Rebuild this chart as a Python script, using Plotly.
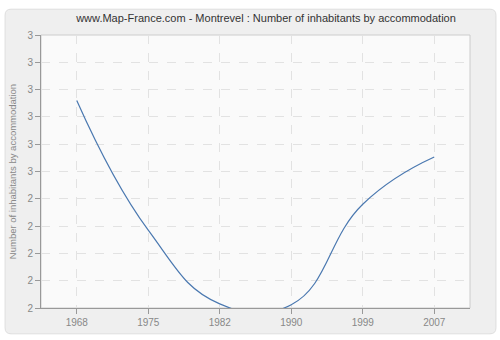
import plotly.graph_objects as go

years = ["1968", "1975", "1982", "1990", "1999", "2007"]
values = [2.76, 2.285, 2.015, 2.012, 2.38, 2.553]

title_text = "www.Map-France.com - Montrevel : Number of inhabitants by accommodation"
y_title = "Number of inhabitants by accommodation"

fig = go.Figure()
fig.add_trace(go.Scatter(
    x=years, y=values, mode="lines",
    line=dict(color="#4a78b0", width=1.2, shape="spline", smoothing=1.3),
    hoverinfo="x+y",
))

def rounded(x0, y0, x1, y1, rx, ry):
    return (f"M{x0+rx},{y0} L{x1-rx},{y0} Q{x1},{y0} {x1},{y0+ry} "
            f"L{x1},{y1-ry} Q{x1},{y1} {x1-rx},{y1} L{x0+rx},{y1} "
            f"Q{x0},{y1} {x0},{y1-ry} L{x0},{y0+ry} Q{x0},{y0} {x0+rx},{y0} Z")

fig.add_shape(type="path", xref="paper", yref="paper",
              path=rounded(-36/430, -26/275, 456/430, 301/275, 6/430, 6/275),
              fillcolor="#efefef", line=dict(color="#dedede", width=1), layer="below")
fig.add_shape(type="rect", xref="paper", yref="paper", x0=0, y0=0, x1=1, y1=1,
              fillcolor="#fafafa", line=dict(color="#cccccc", width=1), layer="below")

fig.update_layout(
    width=500, height=340,
    margin=dict(l=40, r=30, t=35, b=30),
    paper_bgcolor="white",
    plot_bgcolor="rgba(0,0,0,0)",
    showlegend=False,
    font=dict(family="Liberation Sans, Arial, sans-serif", size=10, color="#888888"),
    title=dict(text=title_text, x=266/500, xanchor="center", y=1-18/340, yanchor="middle",
               font=dict(size=11, color="#333333")),
    xaxis=dict(
        type="category", range=[-0.5, 5.5],
        showgrid=True, gridcolor="#e2e2e2", griddash="dash", gridwidth=1,
        showline=True, linecolor="#999999", linewidth=1,
        ticks="outside", ticklen=5, tickcolor="#999999",
        tickfont=dict(size=10, color="#888888"),
        zeroline=False, fixedrange=True,
    ),
    yaxis=dict(
        range=[2, 3], dtick=0.1, tick0=2, tickformat=".0f",
        showgrid=True, gridcolor="#e2e2e2", griddash="dash", gridwidth=1,
        showline=True, linecolor="#999999", linewidth=1,
        ticks="outside", ticklen=5, tickcolor="#999999",
        tickfont=dict(size=10, color="#888888"),
        title=dict(text=y_title, font=dict(size=9.5, color="#888888"), standoff=9),
        zeroline=False, fixedrange=True,
    ),
)

fig.write_html("out.html")
